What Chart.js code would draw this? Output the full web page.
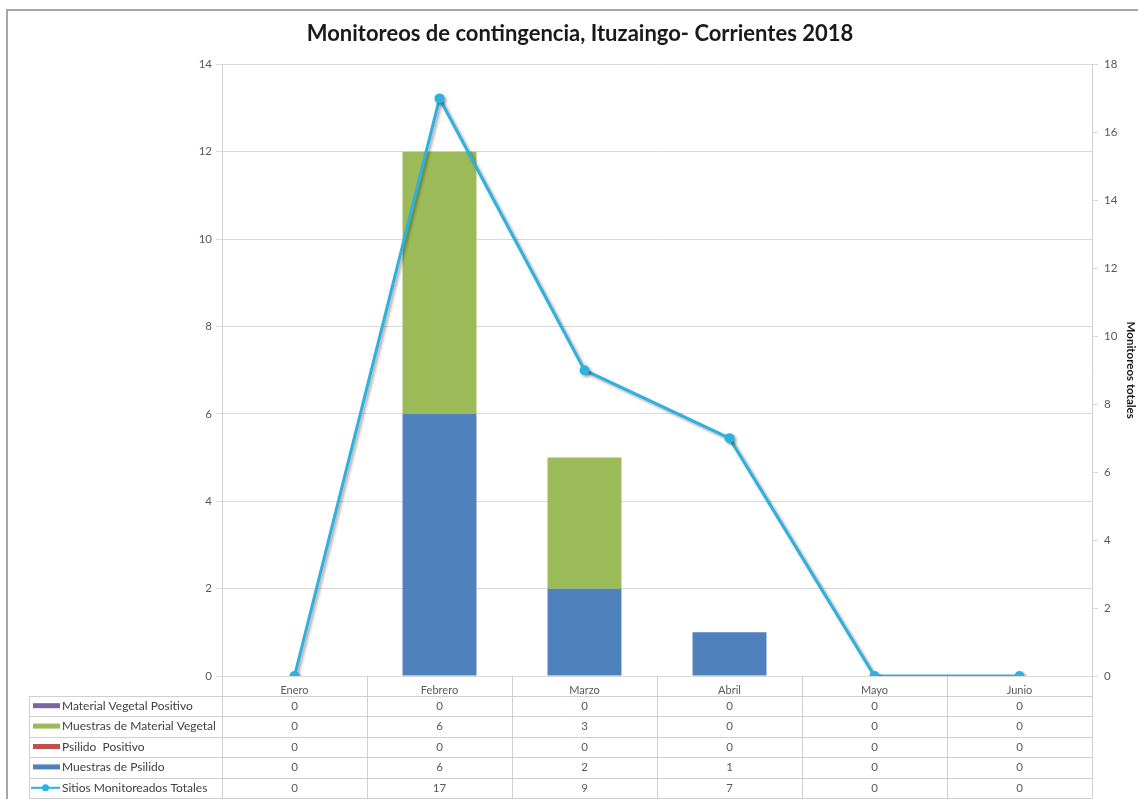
<!DOCTYPE html>
<html>
<head>
<meta charset="utf-8">
<script src="https://cdn.jsdelivr.net/npm/chart.js@4/dist/chart.umd.min.js"></script>
<style>
  html, body { margin: 0; padding: 0; background: #fff; }
  #wrap { width: 1138px; height: 799px; }
</style>
</head>
<body>
<div id="wrap"><canvas id="myChart" width="1138" height="799"></canvas></div>
<script>
const months = ['Enero', 'Febrero', 'Marzo', 'Abril', 'Mayo', 'Junio'];
const materialVegetalPositivo = [0, 0, 0, 0, 0, 0];
const muestrasMaterialVegetal = [0, 6, 3, 0, 0, 0];
const psilidoPositivo = [0, 0, 0, 0, 0, 0];
const muestrasPsilido = [0, 6, 2, 1, 0, 0];
const sitiosTotales = [0, 17, 9, 7, 0, 0];

const leftTicks = [0, 2, 4, 6, 8, 10, 12, 14];
const rightTicks = [0, 2, 4, 6, 8, 10, 12, 14, 16, 18];

const FONT = 'Lato, "Open Sans", sans-serif';
const gridColor = '#d9d9d9';
const textColor = '#595959';

// rows of the data table, top to bottom
const tableRows = [
    { label: 'Material Vegetal Positivo', data: materialVegetalPositivo, color: '#8064a2', kind: 'bar' },
    { label: 'Muestras de Material Vegetal', data: muestrasMaterialVegetal, color: '#9bbb59', kind: 'bar' },
    { label: 'Psilido  Positivo', data: psilidoPositivo, color: '#c0504d', kind: 'bar' },
    { label: 'Muestras de Psilido', data: muestrasPsilido, color: '#4f81bd', kind: 'bar' },
    { label: 'Sitios Monitoreados Totales', data: sitiosTotales, color: '#2cb1e1', kind: 'line' },
];

const tablePlugin = {
    id: 'dataTable',
    afterDraw(chart) {
        const c = chart.ctx;
        const area = chart.chartArea;
        const xs = chart.scales.x;
        const step = area.width / months.length;
        const top = area.bottom;
        const headerH = 20;
        const rowH = 20.4;
        const legendLeft = 29;
        c.save();
        c.strokeStyle = '#cfcfcf';
        c.lineWidth = 1;
        // vertical lines of the columns
        for (let i = 0; i <= months.length; i++) {
            const x = Math.round(area.left + i * step) + 0.5;
            c.beginPath();
            c.moveTo(x, top);
            c.lineTo(x, top + headerH + rowH * tableRows.length);
            c.stroke();
        }
        // legend column border
        c.beginPath();
        c.moveTo(legendLeft + 0.5, top + headerH);
        c.lineTo(legendLeft + 0.5, top + headerH + rowH * tableRows.length);
        c.stroke();
        // horizontal lines
        for (let r = 0; r <= tableRows.length; r++) {
            const y = Math.round(top + headerH + r * rowH) + 0.5;
            c.beginPath();
            c.moveTo(legendLeft, y);
            c.lineTo(area.right, y);
            c.stroke();
        }
        c.textBaseline = 'middle';
        tableRows.forEach((row, r) => {
            const cy = top + headerH + r * rowH + rowH / 2;
            // swatch
            if (row.kind === 'bar') {
                c.fillStyle = row.color;
                c.fillRect(33, cy - 3, 27, 5);
            } else {
                c.strokeStyle = row.color;
                c.lineWidth = 2;
                c.beginPath();
                c.moveTo(31, cy);
                c.lineTo(60, cy);
                c.stroke();
                c.fillStyle = row.color;
                c.beginPath();
                c.arc(45.5, cy, 3.5, 0, Math.PI * 2);
                c.fill();
            }
            c.fillStyle = '#404040';
            c.font = '12px ' + FONT;
            c.textAlign = 'left';
            c.fillText(row.label, 62, cy);
            c.fillStyle = textColor;
            c.font = '11.5px ' + FONT;
            c.textAlign = 'center';
            row.data.forEach((v, i) => {
                c.fillText(String(v), xs.getPixelForValue(i), cy);
            });
        });
        // outer frame
        c.strokeStyle = '#a6a6a6';
        c.lineWidth = 2;
        c.beginPath();
        c.moveTo(7, 799);
        c.lineTo(7, 10);
        c.lineTo(1138, 10);
        c.stroke();
        c.restore();
    }
};

const shadowPlugin = {
    id: 'lineShadow',
    beforeDatasetDraw(chart, args) {
        if (chart.data.datasets[args.index].type === 'line') {
            const c = chart.ctx;
            c.save();
            c.shadowColor = 'rgba(0,0,0,0.35)';
            c.shadowBlur = 3;
            c.shadowOffsetX = 2;
            c.shadowOffsetY = 2;
        }
    },
    afterDatasetDraw(chart, args) {
        if (chart.data.datasets[args.index].type === 'line') {
            chart.ctx.restore();
        }
    }
};

const ctx = document.getElementById('myChart');

new Chart(ctx, {
    type: 'bar',
    data: {
        labels: months,
        datasets: [
            {
                type: 'line',
                label: 'Sitios Monitoreados Totales',
                data: sitiosTotales,
                yAxisID: 'y1',
                borderColor: '#2cb1e1',
                backgroundColor: '#2cb1e1',
                borderWidth: 3,
                pointRadius: 5,
                pointBorderWidth: 0,
                tension: 0,
                order: 0,
            },
            {
                label: 'Muestras de Psilido',
                data: muestrasPsilido,
                backgroundColor: '#4f81bd',
                yAxisID: 'y',
                order: 1,
            },
            {
                label: 'Psilido  Positivo',
                data: psilidoPositivo,
                backgroundColor: '#c0504d',
                yAxisID: 'y',
                order: 1,
            },
            {
                label: 'Muestras de Material Vegetal',
                data: muestrasMaterialVegetal,
                backgroundColor: '#9bbb59',
                yAxisID: 'y',
                order: 1,
            },
            {
                label: 'Material Vegetal Positivo',
                data: materialVegetalPositivo,
                backgroundColor: '#8064a2',
                yAxisID: 'y',
                order: 1,
            },
        ]
    },
    options: {
        responsive: false,
        animation: false,
        maintainAspectRatio: false,
        categoryPercentage: 1,
        barPercentage: 0.51,
        layout: { padding: { left: 22 } },
        plugins: {
            legend: { display: false },
            tooltip: { enabled: false },
            title: {
                display: true,
                text: 'Monitoreos de contingencia, Ituzaingo- Corrientes 2018',
                color: '#1a1a1a',
                font: { family: FONT, size: 22, weight: 'bold' },
                padding: { top: 21, bottom: 17 },
            },
        },
        scales: {
            x: {
                stacked: true,
                grid: { display: false },
                border: { display: false },
                ticks: {
                    color: textColor,
                    font: { family: FONT, size: 11 },
                    padding: 0,
                    maxRotation: 0,
                },
                afterFit(scale) { scale.height = 123; },
            },
            y: {
                stacked: true,
                min: 0,
                max: 14,
                afterBuildTicks(scale) { scale.ticks = leftTicks.map(v => ({ value: v })); },
                grid: { color: gridColor, tickLength: 6 },
                border: { color: '#cfcfcf' },
                ticks: {
                    color: textColor,
                    font: { family: FONT, size: 11.5 },
                    padding: 4,
                },
                afterFit(scale) { scale.width = 200; },
            },
            y1: {
                position: 'right',
                stacked: false,
                min: 0,
                max: 18,
                afterBuildTicks(scale) { scale.ticks = rightTicks.map(v => ({ value: v })); },
                grid: { drawOnChartArea: false, color: gridColor, tickLength: 6 },
                border: { color: '#cfcfcf' },
                ticks: {
                    color: textColor,
                    font: { family: FONT, size: 11.5 },
                    padding: 6,
                },
                title: {
                    display: true,
                    text: 'Monitoreos totales',
                    color: '#1a1a1a',
                    font: { family: FONT, size: 11.5, weight: 'bold' },
                    padding: { top: 0, bottom: 2 },
                },
                afterFit(scale) { scale.width = 46; },
            },
        }
    },
    plugins: [tablePlugin, shadowPlugin],
});
</script>
</body>
</html>
